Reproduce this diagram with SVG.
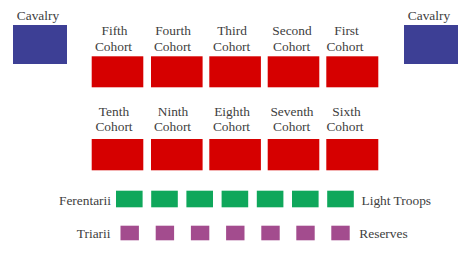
<svg xmlns="http://www.w3.org/2000/svg" width="474" height="263" viewBox="0 0 474 263" font-family="Liberation Serif, DejaVu Serif, serif" font-size="13.4" fill="#404040">
<style>
.c{text-anchor:middle}
.r{text-anchor:end}
.cav{fill:#3d3f95}
.coh{fill:#d60000}
.lt{fill:#0fa75b}
.res{fill:#a34c8e}
</style>
<rect width="474" height="263" fill="#fff"/>
<g id="cavalry-left"><text class="c" x="38" y="20">Cavalry</text><rect class="cav" x="13" y="25" width="54" height="39"/></g>
<g id="cavalry-right"><text class="c" x="429" y="20">Cavalry</text><rect class="cav" x="404" y="25" width="54" height="39"/></g>
<g id="fifth"><text class="c" x="114.5" y="35">Fifth</text><text class="c" x="113.5" y="50.5">Cohort</text><rect class="coh" x="91.7" y="56.3" width="51.6" height="31"/></g>
<g id="fourth"><text class="c" x="173" y="35">Fourth</text><text class="c" x="172.5" y="50.5">Cohort</text><rect class="coh" x="151" y="56.3" width="51.6" height="31"/></g>
<g id="third"><text class="c" x="232" y="35">Third</text><text class="c" x="231.7" y="50.5">Cohort</text><rect class="coh" x="209.3" y="56.3" width="51.6" height="31"/></g>
<g id="second"><text class="c" x="292" y="35">Second</text><text class="c" x="291.7" y="50.5">Cohort</text><rect class="coh" x="267.7" y="56.3" width="51.6" height="31"/></g>
<g id="first"><text class="c" x="346.5" y="35">First</text><text class="c" x="345" y="50.5">Cohort</text><rect class="coh" x="326.3" y="56.3" width="52" height="31"/></g>
<g id="tenth"><text class="c" x="114" y="116">Tenth</text><text class="c" x="114" y="131">Cohort</text><rect class="coh" x="91.7" y="139" width="51.6" height="31.3"/></g>
<g id="ninth"><text class="c" x="173" y="116">Ninth</text><text class="c" x="172.5" y="131">Cohort</text><rect class="coh" x="151" y="139" width="51.6" height="31.3"/></g>
<g id="eighth"><text class="c" x="232" y="116">Eighth</text><text class="c" x="231.5" y="131">Cohort</text><rect class="coh" x="209.3" y="139" width="51.6" height="31.3"/></g>
<g id="seventh"><text class="c" x="292" y="116">Seventh</text><text class="c" x="291.7" y="131">Cohort</text><rect class="coh" x="267.7" y="139" width="51.6" height="31.3"/></g>
<g id="sixth"><text class="c" x="346.5" y="116">Sixth</text><text class="c" x="345" y="131">Cohort</text><rect class="coh" x="326.3" y="139" width="52" height="31.3"/></g>
<g id="light-troops">
<text class="r" x="111" y="204.5">Ferentarii</text>
<text x="361.5" y="204.5">Light Troops</text>
<rect class="lt" x="116" y="190.7" width="26.6" height="16.6"/>
<rect class="lt" x="151.2" y="190.7" width="26.6" height="16.6"/>
<rect class="lt" x="186.4" y="190.7" width="26.6" height="16.6"/>
<rect class="lt" x="221.6" y="190.7" width="26.6" height="16.6"/>
<rect class="lt" x="256.8" y="190.7" width="26.6" height="16.6"/>
<rect class="lt" x="292" y="190.7" width="26.6" height="16.6"/>
<rect class="lt" x="327.2" y="190.7" width="26.6" height="16.6"/>
</g>
<g id="reserves">
<text class="r" x="110.5" y="238">Triarii</text>
<text x="359.3" y="238">Reserves</text>
<rect class="res" x="120.5" y="225.7" width="18.4" height="14.6"/>
<rect class="res" x="155.7" y="225.7" width="18.4" height="14.6"/>
<rect class="res" x="190.9" y="225.7" width="18.4" height="14.6"/>
<rect class="res" x="226.1" y="225.7" width="18.4" height="14.6"/>
<rect class="res" x="261.3" y="225.7" width="18.4" height="14.6"/>
<rect class="res" x="296.3" y="225.7" width="18.4" height="14.6"/>
<rect class="res" x="331.3" y="225.7" width="18.4" height="14.6"/>
</g>
<g id="connectors"></g>
</svg>
